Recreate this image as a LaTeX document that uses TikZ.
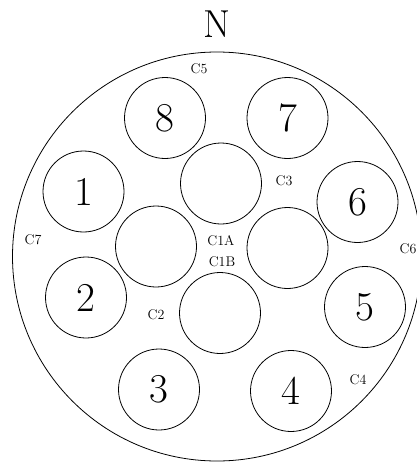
\documentclass[tikz,border=0pt]{standalone}
\begin{document}
\begin{tikzpicture}[x=1pt,y=-1pt,
  hole/.style={circle,draw,line width=0.8pt,minimum size=81pt,inner sep=0pt,font=\fontsize{41}{43}\selectfont},
  tag/.style={font=\fontsize{14}{15}\selectfont,inner sep=0pt},
  bigring/.style={draw,line width=0.8pt}]
\clip (0,0) rectangle (417,463);
\fill[white] (0,0) rectangle (417,463);
\node[circle,bigring,minimum size=409pt,inner sep=0pt] (ring) at (217,256.5) {};
\node[font=\fontsize{39}{41}\selectfont,inner sep=0pt] (north) at (217,24) {N};
\node[hole] (h8) at (165,118) {8};
\node[hole] (h7) at (287.5,118) {7};
\node[hole] (h1) at (83.5,191.5) {1};
\node[hole] (tc) at (221,183.5) {};
\node[hole] (h6) at (357.5,202) {6};
\node[hole] (lm) at (156,246.5) {};
\node[hole] (rm) at (287.5,248) {};
\node[hole] (h2) at (86,297.5) {2};
\node[hole] (bc) at (220,313) {};
\node[hole] (h5) at (365,307) {5};
\node[hole] (h3) at (159,389.5) {3};
\node[hole] (h4) at (291,391) {4};
\node[tag] (c5) at (199,69) {C5};
\node[tag] (c3) at (284,181) {C3};
\node[tag] (c7) at (33,240) {C7};
\node[tag] (c1a) at (221,241) {C1A};
\node[tag] (c1b) at (222,262) {C1B};
\node[tag] (c6) at (408,249) {C6};
\node[tag] (c2) at (156,315) {C2};
\node[tag] (c4) at (358,380) {C4};
\end{tikzpicture}
\end{document}
